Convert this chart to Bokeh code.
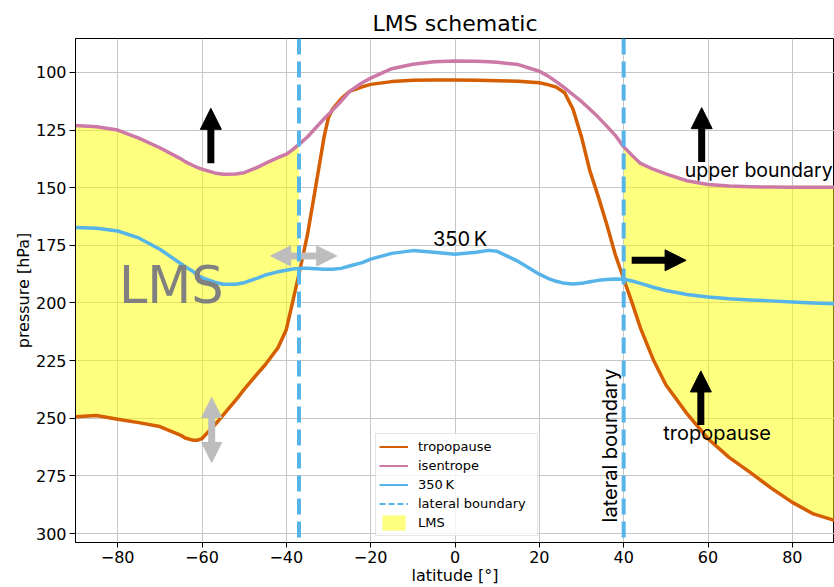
import numpy as np
from bokeh.plotting import figure
from bokeh.models import (Range1d, FixedTicker, Span, Arrow, NormalHead, Label,
                          Legend, LegendItem)
from bokeh.embed import file_html
from bokeh.resources import INLINE

# ---------------- data ----------------
latitude = [-90, -85, -80, -75, -70, -65, -64, -62, -61, -60, -57, -55, -52, -50, -47, -45,
            -42, -40, -38.5, -37, -35, -33, -31, -30, -29, -27, -25, -22, -20, -15, -10, -5,
            0, 5, 8, 10, 15, 20, 22, 24, 26, 28, 30, 32, 34, 36, 38, 40, 42, 44,
            47, 50, 55, 60, 65, 70, 75, 80, 85, 90]
tropopause = [249.4, 248.8, 250.4, 251.9, 253.6, 257.4, 258.6, 259.6, 259.5, 258.8,
              253.0, 248.7, 242.2, 237.5, 231.0, 226.8, 219.5, 211.5, 199.5, 187.5,
              170.5, 149.2, 127.5, 119.5, 115.8, 111.5, 108.2, 106.3, 105.2, 104.0,
              103.4, 103.3, 103.3, 103.4, 103.5, 103.6, 103.8, 104.5, 105.3, 106.4,
              108.8, 116.0, 128.0, 142.8, 154.0, 166.0, 179.0, 189.5, 200.0, 211.0,
              224.5, 235.5, 248.0, 258.9, 267.0, 273.5, 280.3, 286.5, 291.5, 294.3]
isentrope = [123.0, 123.6, 125.0, 128.5, 132.7, 137.5, 138.7, 140.5, 141.3, 142.0,
             143.6, 144.2, 144.1, 143.5, 141.3, 139.5, 137.0, 135.5, 133.5, 131.2,
             128.0, 124.0, 120.0, 118.2, 116.3, 112.5, 108.3, 104.5, 102.5, 98.4,
             96.5, 95.4, 95.1, 95.2, 95.4, 95.6, 96.6, 99.5, 101.5, 104.0,
             106.7, 109.7, 112.6, 116.0, 119.5, 123.3, 127.3, 132.3, 136.0, 139.5,
             142.0, 144.0, 147.0, 148.6, 149.3, 149.6, 149.7, 149.8, 149.8, 149.8]
theta_350K = [167.3, 167.6, 168.8, 171.8, 176.7, 183.0, 184.3, 186.5, 188.0, 189.0,
              191.0, 191.9, 191.9, 191.2, 189.3, 187.9, 186.5, 185.8, 185.3, 185.0,
              185.0, 185.2, 185.4, 185.4, 185.4, 185.0, 184.0, 182.5, 181.0, 178.5,
              177.3, 178.0, 178.9, 178.0, 177.2, 177.6, 182.0, 187.5, 189.3, 190.6,
              191.5, 191.8, 191.5, 190.8, 190.2, 189.8, 189.6, 189.7, 190.5, 191.5,
              193.2, 194.6, 196.3, 197.4, 198.2, 198.7, 199.1, 199.6, 200.0, 200.3]
lateral_boundary = [-37, 40]
x_ticks = [-80, -60, -40, -20, 0, 20, 40, 60, 80]
y_ticks = [100, 125, 150, 175, 200, 225, 250, 275, 300]

C_TROP = "#D55E00"
C_ISEN = "#CC79A7"
C_350 = "#56B4E9"
C_GREY_ARROW = "#bdbdbd"

lat = np.array(latitude, dtype=float)
trop = np.array(tropopause)
isen = np.array(isentrope)
k350 = np.array(theta_350K)

p = figure(width=834, height=587, x_range=Range1d(-90, 90), y_range=Range1d(303.9, 85.3),
           output_backend="svg", toolbar_location=None,
           min_border_left=75, min_border_right=0, min_border_top=38, min_border_bottom=45)

p.title.text = "LMS schematic"
p.title.align = "center"
p.title.text_font = "DejaVu Sans"
p.title.text_font_size = "22px"
p.title.text_font_style = "normal"
p.title.text_color = "black"
p.title.standoff = 5
p.title.offset = 0

p.background_fill_color = "white"
p.border_fill_color = "white"
p.outline_line_color = "black"
p.outline_line_width = 1
p.outline_line_alpha = 1

# LMS fill
left = lat <= lateral_boundary[0]
right = lat >= lateral_boundary[1]
p.varea(x=lat[left], y1=isen[left], y2=trop[left], fill_color="yellow", fill_alpha=0.5)
p.varea(x=lat[right], y1=isen[right], y2=trop[right], fill_color="yellow", fill_alpha=0.5)

# grey double arrows
for (xs, ys, xe, ye) in [(-43.7, 179.6, -28.05, 179.6), (-57.7, 241.0, -57.7, 269.2)]:
    p.add_layout(Arrow(x_start=xs, y_start=ys, x_end=xe, y_end=ye,
                       start=NormalHead(size=20, fill_color=C_GREY_ARROW, line_color=C_GREY_ARROW, line_width=1),
                       end=NormalHead(size=20, fill_color=C_GREY_ARROW, line_color=C_GREY_ARROW, line_width=1),
                       line_color=C_GREY_ARROW, line_width=7))

p.line(lat, trop, line_color=C_TROP, line_width=3.5, line_join="round")
p.line(lat, isen, line_color=C_ISEN, line_width=3.5, line_join="round")
p.line(lat, k350, line_color=C_350, line_width=3.5, line_join="round")

for xb in lateral_boundary:
    p.add_layout(Span(location=xb, dimension="height", line_color=C_350,
                      line_width=4, line_dash="16 7"))

# black arrows
for (xs, ys, xe, ye) in [(-57.9, 139.4, -57.9, 115.6), (58.5, 138.9, 58.5, 115.3),
                         (58.3, 252.9, 58.3, 229.5), (41.9, 181.5, 54.8, 181.5)]:
    p.add_layout(Arrow(x_start=xs, y_start=ys, x_end=xe, y_end=ye,
                       end=NormalHead(size=21, fill_color="black", line_color="black", line_width=1),
                       line_color="black", line_width=7))

# texts
p.add_layout(Label(x=-79.7, y=192.5, text="LMS", text_font="DejaVu Sans", text_font_size="51px",
                   text_color="#808080", text_align="left", text_baseline="alphabetic"))
p.add_layout(Label(x=1.2, y=172.1, text="350\u2009K", text_font="Inter", text_font_size="20px",
                   text_color="black", text_align="center", text_baseline="alphabetic"))
p.add_layout(Label(x=54.5, y=142.5, text="upper boundary", text_font="Inter", text_font_size="19.5px",
                   text_color="black", text_align="left", text_baseline="alphabetic"))
p.add_layout(Label(x=49.4, y=256.2, text="tropopause", text_font="Inter", text_font_size="20px",
                   text_color="black", text_align="left", text_baseline="alphabetic"))
p.add_layout(Label(x=36.8, y=295.2, text="lateral boundary", text_font="Inter", text_font_size="20px",
                   text_color="black", text_align="left", text_baseline="alphabetic", angle=np.pi / 2))

# legend (thin proxy glyphs, one-point sources so nothing shows in the plot)
r_t = p.line(x=lat[:1], y=trop[:1], line_color=C_TROP, line_width=2)
r_i = p.line(x=lat[:1], y=isen[:1], line_color=C_ISEN, line_width=2)
r_k = p.line(x=lat[:1], y=k350[:1], line_color=C_350, line_width=2)
r_l = p.line(x=lat[:1], y=k350[:1], line_color=C_350, line_width=2, line_dash="6 3")
r_f = p.varea(x=lat[:1], y1=isen[:1], y2=trop[:1], fill_color="yellow", fill_alpha=0.5)
legend = Legend(items=[LegendItem(label="tropopause", renderers=[r_t]),
                       LegendItem(label="isentrope", renderers=[r_i]),
                       LegendItem(label="350\u2009K", renderers=[r_k]),
                       LegendItem(label="lateral boundary", renderers=[r_l]),
                       LegendItem(label="LMS", renderers=[r_f])],
                location=(300, 6), glyph_width=29, glyph_height=19, label_height=19,
                label_width=116, label_standoff=10, padding=3, spacing=0, margin=0,
                label_text_font="DejaVu Sans", label_text_font_size="13px",
                label_text_color="black",
                border_line_color="#cccccc", border_line_width=1,
                background_fill_color="white", background_fill_alpha=0.8)
p.add_layout(legend)

# axes
def minus(t):
    return str(t).replace("-", "\u2212")

p.xaxis.ticker = FixedTicker(ticks=x_ticks)
p.yaxis.ticker = FixedTicker(ticks=y_ticks)
p.xaxis.major_label_overrides = {t: minus(t) for t in x_ticks}
p.yaxis.major_label_overrides = {t: str(t) for t in y_ticks}
p.xgrid.ticker = FixedTicker(ticks=x_ticks)
p.ygrid.ticker = FixedTicker(ticks=y_ticks)
p.grid.grid_line_color = "#c6c6c6"
p.grid.grid_line_width = 1

for ax in (p.xaxis[0], p.yaxis[0]):
    ax.axis_line_color = "black"
    ax.axis_line_width = 1
    ax.major_tick_line_color = "black"
    ax.major_tick_in = 0
    ax.minor_tick_line_color = None
    ax.major_label_text_font = "DejaVu Sans"
    ax.major_label_text_font_size = "16px"
    ax.major_label_text_color = "black"
    ax.axis_label_text_font = "DejaVu Sans"
    ax.axis_label_text_font_size = "16px"
    ax.axis_label_text_font_style = "normal"
    ax.axis_label_text_color = "black"

p.xaxis.axis_label = "latitude [°]"
p.xaxis.major_tick_out = 5
p.xaxis.major_label_standoff = 3
p.xaxis.axis_label_standoff = 0
p.yaxis.axis_label = "pressure [hPa]"
p.yaxis.major_tick_out = 6
p.yaxis.major_label_standoff = 3
p.yaxis.axis_label_standoff = 0

open("out.html", "w").write(file_html(p, INLINE))
